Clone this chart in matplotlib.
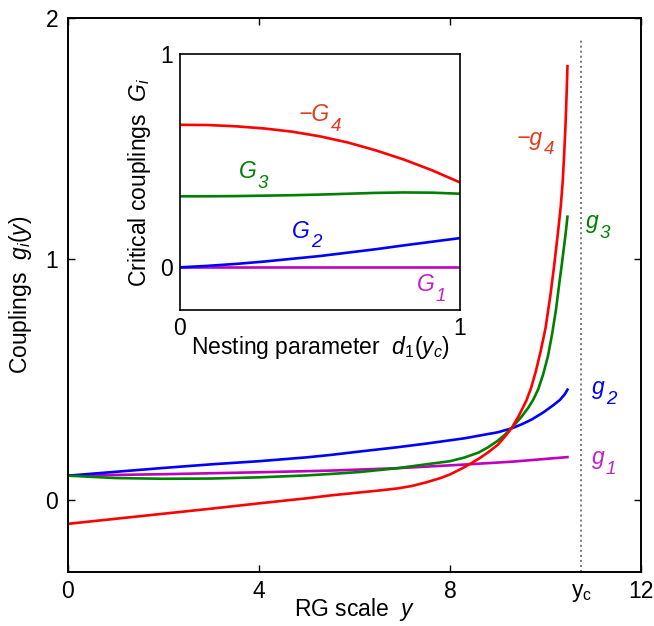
import matplotlib
matplotlib.use("Agg")
import matplotlib.pyplot as plt
import matplotlib.transforms as mtransforms

plt.rcParams['font.family'] = ['Liberation Sans', 'DejaVu Sans']
plt.rcParams['mathtext.fontset'] = 'custom'
plt.rcParams['mathtext.rm'] = 'Liberation Sans'
plt.rcParams['mathtext.it'] = 'Liberation Sans:italic'
plt.rcParams['mathtext.bf'] = 'Liberation Sans:bold'

# ---------------- main panel data: couplings vs RG scale ----------------
x_g4 = [0, 1, 2, 3, 4, 5, 5.5, 6.1, 6.5, 6.9, 7.2, 7.5, 7.8, 8.0, 8.3, 8.6, 8.8, 9.0,
        9.15, 9.3, 9.45, 9.6, 9.7, 9.8, 9.9, 10.0, 10.1, 10.18, 10.26, 10.32, 10.36,
        10.39, 10.42, 10.44, 10.46]
neg_g4 = [-0.100, -0.079, -0.058, -0.037, -0.015, 0.006, 0.018, 0.030, 0.038, 0.047,
          0.057, 0.072, 0.090, 0.105, 0.135, 0.170, 0.197, 0.228, 0.262, 0.300, 0.352,
          0.412, 0.465, 0.535, 0.618, 0.712, 0.845, 0.970, 1.108, 1.219, 1.320, 1.430,
          1.560, 1.670, 1.800]

x_g3 = [0, 1, 2, 3, 4, 5, 5.5, 6.1, 6.9, 7.5, 8.0, 8.3, 8.6, 8.8, 9.0, 9.15, 9.3, 9.5,
        9.65, 9.75, 9.85, 9.95, 10.05, 10.14, 10.22, 10.29, 10.35, 10.4, 10.43, 10.46]
g3 = [0.100, 0.090, 0.087, 0.088, 0.093, 0.101, 0.107, 0.115, 0.131, 0.147, 0.160,
      0.175, 0.196, 0.218, 0.245, 0.270, 0.300, 0.345, 0.385, 0.418, 0.460, 0.520,
      0.595, 0.690, 0.790, 0.900, 0.990, 1.070, 1.120, 1.175]

x_g2 = [0, 1, 2, 3, 4, 5, 5.5, 6.1, 6.9, 7.5, 8.3, 9.0, 9.3, 9.5, 9.71, 9.95, 10.16,
        10.3, 10.4, 10.46]
g2 = [0.100, 0.116, 0.132, 0.147, 0.160, 0.176, 0.186, 0.200, 0.218, 0.233, 0.255,
      0.280, 0.297, 0.313, 0.333, 0.362, 0.392, 0.414, 0.437, 0.457]

x_g1 = [0, 2, 4, 5.5, 6.9, 8.3, 9.3, 10.46]
g1 = [0.100, 0.106, 0.114, 0.121, 0.131, 0.146, 0.158, 0.177]

y_c = 10.75
main_xticks = [0, 4, 8, 12]
main_yticks = [0, 1, 2]

# ---------------- inset data: critical couplings vs nesting ----------------
d1 = [0, 0.1, 0.2, 0.3, 0.4, 0.5, 0.6, 0.7, 0.8, 0.9, 1.0]
neg_G4 = [0.668, 0.667, 0.661, 0.651, 0.636, 0.614, 0.585, 0.548, 0.505, 0.455, 0.398]
G3 = [0.333, 0.333, 0.334, 0.336, 0.338, 0.341, 0.345, 0.349, 0.351, 0.350, 0.345]
G2 = [0.000, 0.007, 0.016, 0.027, 0.040, 0.053, 0.069, 0.085, 0.103, 0.120, 0.137]
G1 = [0.0, 0.0, 0.0, 0.0, 0.0, 0.0, 0.0, 0.0, 0.0, 0.0, 0.0]
inset_ticks = [0, 1]

RED = '#ff0000'
GREEN = '#008000'
BLUE = '#0000ff'
MAG = '#bf00bf'
LBL_RED = '#e23c1c'
LBL_MAG = '#c81ec8'

FS = 16.5
SUBFS = 13.5
LW = 1.9

fig = plt.figure(figsize=(6.54, 6.26), dpi=100)
W, H = 654.0, 626.0


def sub_label(a, x, y, base, sub, color):
    """Italic label with a MATLAB-like (large, low) subscript; (x, y) is where
    the base letter ends on its baseline."""
    a.annotate(base, (x, y), xytext=(0, 0), textcoords='offset points',
               ha='right', va='baseline', fontsize=FS, style='italic', color=color)
    a.annotate(sub, (x, y), xytext=(0.5, -7), textcoords='offset points',
               ha='left', va='baseline', fontsize=SUBFS, style='italic', color=color)


ax = fig.add_axes([68 / W, 1 - 572 / H, (641 - 68) / W, (572 - 18) / H])
ax.plot(x_g1, g1, color=MAG, lw=LW)
ax.plot(x_g2, g2, color=BLUE, lw=LW)
ax.plot(x_g3, g3, color=GREEN, lw=LW)
ax.plot(x_g4, neg_g4, color=RED, lw=LW)
ax.plot([y_c, y_c], [-0.3, 1.91], color='#555555', lw=1.1, linestyle=(0, (1.3, 2.0)))

ax.set_xlim(0, 12)
ax.set_ylim(-0.3, 2)
ax.set_xticks(main_xticks)
ax.set_xticklabels([str(t) for t in main_xticks])
ax.set_yticks(main_yticks)
ax.set_yticklabels([str(t) for t in main_yticks])
ax.tick_params(direction='in', length=5, width=1.0, labelsize=FS, pad=7,
               top=True, right=True)
ax.tick_params(axis='x', pad=6)
for s in ax.spines.values():
    s.set_linewidth(1.4)

trans = mtransforms.blended_transform_factory(ax.transData, ax.transAxes)
ax.text(y_c, -0.016, r'$\mathrm{y_c}$', transform=trans, ha='center', va='top', fontsize=FS)

ax.set_xlabel(r'RG scale  $y$', fontsize=FS, labelpad=-5)
ax.set_ylabel(r'Couplings  $\mathit{g_i(y)}$', fontsize=FS, labelpad=8)

sub_label(ax, 9.95, 1.474, '\u2212g', '4', LBL_RED)
sub_label(ax, 11.11, 1.129, 'g', '3', GREEN)
sub_label(ax, 11.25, 0.439, 'g', '2', BLUE)
sub_label(ax, 11.25, 0.149, 'g', '1', LBL_MAG)

# ---------------- inset ----------------
ins = fig.add_axes([180 / W, 1 - 310 / H, 280 / W, 256 / H])
ins.plot(d1, G1, color=MAG, lw=LW)
ins.plot(d1, G2, color=BLUE, lw=LW)
ins.plot(d1, G3, color=GREEN, lw=LW)
ins.plot(d1, neg_G4, color=RED, lw=LW)
ins.set_xlim(0, 1)
ins.set_ylim(-0.2, 1)
ins.set_xticks(inset_ticks)
ins.set_xticklabels([str(t) for t in inset_ticks])
ins.set_yticks(inset_ticks)
ins.set_yticklabels([str(t) for t in inset_ticks])
ins.tick_params(direction='in', length=0, labelsize=FS, pad=5)
for s in ins.spines.values():
    s.set_linewidth(1.2)
ins.set_xlabel(r'Nesting parameter  $d_1(y_c)$', fontsize=FS, labelpad=-4)
ins.set_ylabel(r'Critical couplings  $G_i$', fontsize=FS, labelpad=5)

sub_label(ins, 0.536, 0.684, '\u2212G', '4', LBL_RED)
sub_label(ins, 0.274, 0.419, 'G', '3', GREEN)
sub_label(ins, 0.464, 0.139, 'G', '2', BLUE)
sub_label(ins, 0.911, -0.111, 'G', '1', LBL_MAG)

fig.savefig('out.png', dpi=100)
